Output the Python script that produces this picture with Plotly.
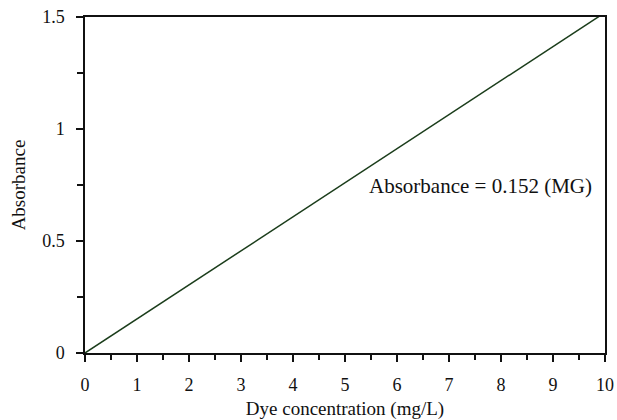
import plotly.graph_objects as go

conc = [0, 10]
absorb = [0.0, 1.52]
x_ticks = [0, 1, 2, 3, 4, 5, 6, 7, 8, 9, 10]
y_ticks = [0, 0.5, 1, 1.5]
y_tick_labels = ["0", "0.5", "1", "1.5"]

fam = "Liberation Serif, Times New Roman, serif"
tickfont = dict(family=fam, size=18, color="#111")
titlefont = dict(family=fam, size=19, color="#111")

fig = go.Figure()
fig.add_trace(go.Scatter(x=conc, y=absorb, mode="lines",
                         line=dict(color="#1b3d1b", width=1.5), showlegend=False))

fig.update_layout(
    width=617, height=420,
    margin=dict(l=85, r=12, t=17, b=67),
    plot_bgcolor="white", paper_bgcolor="white",
    font=tickfont,
    annotations=[dict(x=9.78, y=0.745, xref="x", yref="y", text="Absorbance = 0.152 (MG)",
                      showarrow=False, xanchor="right", yanchor="middle",
                      font=dict(family=fam, size=21, color="#111"))],
)
fig.update_xaxes(range=[0, 10], tickvals=x_ticks, ticks="outside", ticklen=7, tickwidth=1.5,
                 tickcolor="#111", showline=True, linecolor="#111", linewidth=1.5, mirror=True,
                 showgrid=False, zeroline=False, tickfont=tickfont, ticklabelstandoff=8,
                 automargin=False,
                 minor=dict(dtick=0.5, ticks="outside", ticklen=5, tickwidth=1.5, tickcolor="#111"),
                 title=dict(text="Dye concentration (mg/L)", standoff=11, font=titlefont))
fig.update_yaxes(range=[0, 1.5], tickvals=y_ticks, ticktext=y_tick_labels, ticks="outside",
                 ticklen=7, tickwidth=1.5, tickcolor="#111", showline=True, linecolor="#111",
                 linewidth=1.5, mirror=True, showgrid=False, zeroline=False,
                 tickfont=tickfont, ticklabelstandoff=8, automargin=False,
                 minor=dict(dtick=0.25, ticks="outside", ticklen=6, tickwidth=1.5, tickcolor="#111"),
                 title=dict(text="Absorbance", standoff=12, font=titlefont))

fig.write_html("out.html")
